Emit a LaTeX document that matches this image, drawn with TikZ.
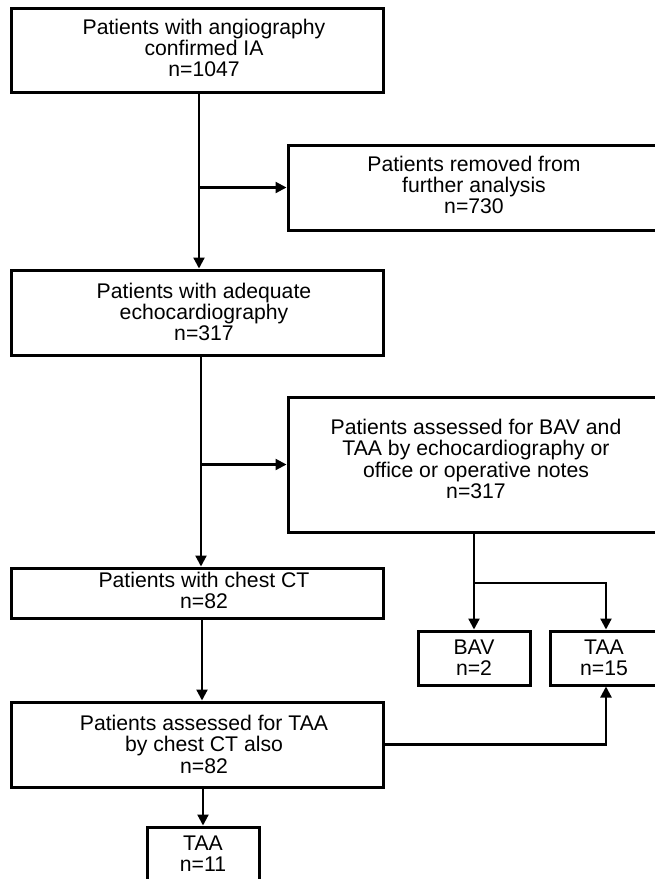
\documentclass[tikz,border=0pt]{standalone}
\usepackage{fontspec}
\setmainfont{Liberation Sans}
\usetikzlibrary{arrows.meta}
\begin{document}
\begin{tikzpicture}[x=1pt, y=-1pt,
		box/.style={draw, line width=3pt, inner sep=0pt},
		txt/.style={align=center, inner sep=0pt, font=\fontsize{21.2}{21.3}\selectfont},
		arr/.style={line width=2.2pt, -{Triangle[length=11pt, width=11pt]}}]
	\useasboundingbox (0,0) rectangle (655,879);
	\clip (0,0) rectangle (655,879);
	
	\node[box, minimum width=372pt, minimum height=84.5pt] (angio) at (197,50.25) {};
	\node[txt] (angiotxt) at (204,48) {Patients with angiography\\confirmed IA\\n=1047};
	
	\node[box, minimum width=374pt, minimum height=85pt] (removed) at (475,187.5) {};
	\node[txt] (removedtxt) at (474,185) {Patients removed from\\further analysis\\n=730};
	
	\node[box, minimum width=372pt, minimum height=85pt] (echo) at (197,312.5) {};
	\node[txt] (echotxt) at (204,312) {Patients with adequate\\echocardiography\\n=317};
	
	\node[box, minimum width=374pt, minimum height=135pt] (assessed) at (475,464.5) {};
	\node[txt] (assessedtxt) at (476,459) {Patients assessed for BAV and\\TAA by echocardiography or\\office or operative notes\\n=317};
	
	\node[box, minimum width=372pt, minimum height=50pt] (chest) at (197,593) {};
	\node[txt] (chesttxt) at (204,590.5) {Patients with chest CT\\n=82};
	
	\node[box, minimum width=112pt, minimum height=54pt] (bav) at (474,658) {};
	\node[txt] (bavtxt) at (bav.center) {BAV\\n=2};
	
	\node[box, minimum width=112pt, minimum height=54pt] (taaecho) at (606,658) {};
	\node[txt] (taaechotxt) at (604,658) {TAA\\n=15};
	
	\node[box, minimum width=372pt, minimum height=85pt] (cttaa) at (197,744.5) {};
	\node[txt] (cttaatxt) at (204,744.4) {Patients assessed for TAA\\by chest CT also\\n=82};
	
	\node[box, minimum width=112pt, minimum height=54pt] (taact) at (203,854) {};
	\node[txt] (taacttxt) at (taact.center) {TAA\\n=11};
	
	\coordinate (split) at (474,583);
	
	\draw[arr] ([xshift=2pt]angio.south) -- ([xshift=2pt]angio.south |- echo.north);
	\draw[arr] ([xshift=2pt]angio.south |- removed.west) -- (removed.west);
	\draw[arr] ([xshift=4pt]echo.south) -- ([xshift=4pt]echo.south |- chest.north);
	\draw[arr] ([xshift=4pt]echo.south |- assessed.west) -- (assessed.west);
	\draw[arr] (assessed.south -| bav.north) -- (bav.north);
	\draw[arr] (split) -| (taaecho.north);
	\draw[arr] ([xshift=5pt]chest.south) -- ([xshift=5pt]chest.south |- cttaa.north);
	\draw[arr] (cttaa.east) -| (taaecho.south);
	\draw[arr] (cttaa.south -| taact.north) -- (taact.north);
\end{tikzpicture}
\end{document}
